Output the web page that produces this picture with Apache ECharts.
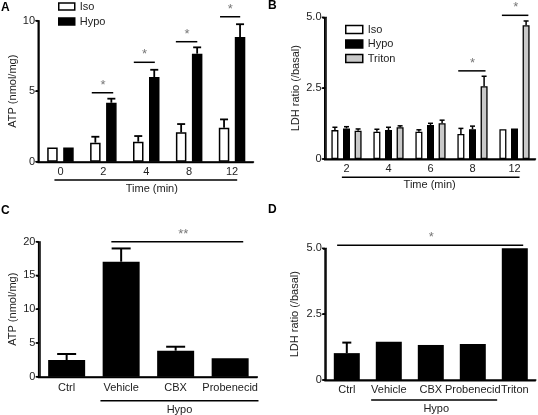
<!DOCTYPE html>
<html><head><meta charset="utf-8">
<script src="https://cdn.jsdelivr.net/npm/echarts@6/dist/echarts.min.js"></script>
<style>html,body{margin:0;padding:0;background:#fff}#c{width:538px;height:415px}</style>
</head><body><div id="c"></div>
<script>
const FONT = "'Liberation Sans', Arial, Helvetica, sans-serif";

// ---------- Panel A: ATP release over time ----------
const catA = ['0', '2', '4', '8', '12'];
const isoA = [1.0, 1.35, 1.42, 2.08, 2.41];
const isoErrA = [0.0, 0.42, 0.40, 0.59, 0.59];
const hypoA = [1.0, 4.18, 6.0, 7.66, 8.84];
const hypoErrA = [0.0, 0.29, 0.52, 0.45, 0.91];
const ticksA = [0, 5, 10];
// significance bars: [height, from, to, starPos]  (positions in category units)
const sigA = [[4.89, 0.73, 1.23, 0.99], [7.05, 1.71, 2.20, 1.96], [8.51, 2.69, 3.19, 2.95], [10.28, 3.72, 4.19, 3.96]];
const sigLabelA = ['*', '*', '*', '*'];
// group underline: [from, to, labelPos]
const groupA = [[-0.14, 4.12, 2.13]];
const groupLabelA = ['Time (min)'];

// ---------- Panel B: LDH ratio over time ----------
const catB = ['2', '4', '6', '8', '12'];
const isoB = [1.02, 0.96, 0.96, 0.88, 1.05];
const isoErrB = [0.10, 0.09, 0.07, 0.20, 0.02];
const hypoB = [1.08, 1.02, 1.20, 1.05, 1.08];
const hypoErrB = [0.06, 0.10, 0.06, 0.11, 0.02];
const tritonB = [1.00, 1.12, 1.26, 2.57, 4.72];
const tritonErrB = [0.06, 0.05, 0.11, 0.35, 0.15];
const ticksB = [0, 2.5, 5.0];
const sigB = [[3.11, 2.66, 3.31, 3.0], [5.07, 3.70, 4.33, 4.03]];
const sigLabelB = ['*', '*'];
const groupB = [[-0.11, 4.12, 1.98]];
const groupLabelB = ['Time (min)'];

// ---------- Panel C: ATP with blockers ----------
const catC = ['Ctrl', 'Vehicle', 'CBX', 'Probenecid'];
const atpC = [2.47, 17.04, 3.85, 2.72];
const atpErrC = [0.89, 1.96, 0.59, 0.08];
const ticksC = [0, 5, 10, 15, 20];
const sigC = [[20.0, 0.82, 3.24, 2.14]];
const sigLabelC = ['**'];
const groupC = [[0.62, 3.52, 2.07]];
const groupLabelC = ['Hypo'];

// ---------- Panel D: LDH with blockers ----------
const catD = ['Ctrl', 'Vehicle', 'CBX', 'Probenecid', 'Triton'];
const ldhD = [1.02, 1.45, 1.33, 1.37, 5.0];
const ldhErrD = [0.40, 0.01, 0.01, 0.02, 0.0];
const ticksD = [0, 2.5, 5.0];
const sigD = [[5.12, -0.23, 4.20, 2.01]];
const sigLabelD = ['*'];
const groupD = [[0.58, 3.58, 2.13]];
const groupLabelD = ['Hypo'];

// ---------- layout ----------
const grids = [
  {left: 39, top: 20.7, width: 214.5, height: 141},
  {left: 325.5, top: 17.3, width: 210, height: 141.7},
  {left: 39.4, top: 241.7, width: 218, height: 135},
  {left: 325.8, top: 248.3, width: 210, height: 131.7}
];
const cats = [catA, catB, catC, catD];
const ticks = [ticksA, ticksB, ticksC, ticksD];
const yNames = ['ATP (nmol/mg)', 'LDH ratio (/basal)', 'ATP (nmol/mg)', 'LDH ratio (/basal)'];
const yNameGap = [21, 24.5, 21, 25.5];
const xLabelMargin = [5, 4, 6, 4];
const groupLineOff = [18.3, 18.3, 24, 20];
const groupTextOff = [27.5, 26, 33, 28.5];

const fmtDec = v => v === 0 ? '0' : v.toFixed(1);

const xAxes = cats.map((c, k) => ({
  type: 'category', gridIndex: k, data: c,
  axisLine: {show: true, onZero: false, lineStyle: {color: '#000', width: 1.5}},
  axisTick: {show: false},
  axisLabel: {margin: xLabelMargin[k], interval: 0, fontFamily: FONT, fontSize: 11, color: '#222'},
  splitLine: {show: false}
}));
const yAxes = ticks.map((t, k) => ({
  type: 'value', gridIndex: k, min: t[0], max: t[t.length - 1], interval: t[1] - t[0],
  axisLine: {show: true, onZero: false, lineStyle: {color: '#000', width: 1.5}},
  axisTick: {show: true, length: 3, lineStyle: {color: '#000', width: 1.5}},
  axisLabel: {margin: 4, formatter: (k === 1 || k === 3) ? fmtDec : '{value}', fontFamily: FONT, fontSize: 11, color: '#222'},
  splitLine: {show: false},
  name: yNames[k], nameLocation: 'middle', nameGap: yNameGap[k],
  nameTextStyle: {fontFamily: FONT, fontSize: 11, color: '#222'}
}));

function barSeries(name, k, data, color, bw, gapPx, bwBorder) {
  return {
    name: name, type: 'bar', xAxisIndex: k, yAxisIndex: k, data: data,
    barWidth: bw, barGap: (gapPx / bw * 100) + '%',
    itemStyle: {color: color, borderColor: '#000', borderWidth: bwBorder},
    silent: true
  };
}
function errSeries(k, means, errs, idx, n, bw, gapPx, cap, lw) {
  return {
    type: 'custom', xAxisIndex: k, yAxisIndex: k, z: 5, silent: true,
    data: means.map((m, i) => [i, m, m + errs[i]]),
    renderItem(params, api) {
      const i = api.value(0);
      const total = n * bw + (n - 1) * gapPx;
      const dx = -total / 2 + bw / 2 + idx * (bw + gapPx);
      const p0 = api.coord([i, api.value(1)]);
      const p1 = api.coord([i, api.value(2)]);
      if (p0[1] - p1[1] < 0.8) return null;
      const x = p0[0] + dx;
      return {type: 'group', children: [
        {type: 'line', shape: {x1: x, y1: p0[1], x2: x, y2: p1[1]}, style: {stroke: '#000', lineWidth: lw}},
        {type: 'line', shape: {x1: x - cap / 2, y1: p1[1], x2: x + cap / 2, y2: p1[1]}, style: {stroke: '#000', lineWidth: lw}}
      ]};
    }
  };
}
// fractional category position -> pixel x
function catX(api, v) {
  const band = api.size([1, 0])[0];
  return api.coord([0, 0])[0] + v * band;
}
function sigSeries(k, items, labels) {
  return {
    type: 'custom', xAxisIndex: k, yAxisIndex: k, z: 6, silent: true,
    encode: {x: -1, y: 0},
    dimensions: ['h', 'from', 'to', 'star'],
    data: items.map(d => [d[0], d[1], d[2], d[3]]),
    renderItem(params, api) {
      const y = api.coord([0, api.value(0)])[1];
      const a = catX(api, api.value(1));
      const b = catX(api, api.value(2));
      const s = catX(api, api.value(3));
      return {type: 'group', children: [
        {type: 'line', shape: {x1: a, y1: y, x2: b, y2: y}, style: {stroke: '#000', lineWidth: 1.5}},
        {type: 'text', style: {text: labels[params.dataIndex], x: s, y: y - 1, align: 'center', verticalAlign: 'bottom',
          fontFamily: FONT, fontSize: 13, fill: '#777'}}
      ]};
    }
  };
}
function groupSeries(k, items, labels) {
  return {
    type: 'custom', xAxisIndex: k, yAxisIndex: k, z: 6, silent: true,
    encode: {x: -1, y: -1},
    dimensions: ['from', 'to', 'label'],
    data: items.map(d => [d[0], d[1], d[2]]),
    renderItem(params, api) {
      const y0 = api.coord([0, 0])[1];
      const a = catX(api, api.value(0));
      const b = catX(api, api.value(1));
      const t = catX(api, api.value(2));
      const yl = y0 + groupLineOff[k];
      return {type: 'group', children: [
        {type: 'line', shape: {x1: a, y1: yl, x2: b, y2: yl}, style: {stroke: '#000', lineWidth: 1.5}},
        {type: 'text', style: {text: labels[params.dataIndex], x: t, y: y0 + groupTextOff[k], align: 'center', verticalAlign: 'middle',
          fontFamily: FONT, fontSize: 11, fill: '#222'}}
      ]};
    }
  };
}

// bar geometry per panel
const gA = {bw: 10.5, gap: 5.5, cap: 8, lw: 1.8, border: 1.5};
const gB = {bw: 7, gap: 4.6, cap: 5, lw: 1.5, border: 1.3};
const gC = {bw: 37, gap: 0, cap: 19, lw: 2};
const gD = {bw: 26, gap: 0, cap: 9, lw: 2};

const series = [
  barSeries('Iso', 0, isoA, '#fff', gA.bw, gA.gap, gA.border),
  barSeries('Hypo', 0, hypoA, '#000', gA.bw, gA.gap, gA.border),
  errSeries(0, isoA, isoErrA, 0, 2, gA.bw, gA.gap, gA.cap, gA.lw),
  errSeries(0, hypoA, hypoErrA, 1, 2, gA.bw, gA.gap, gA.cap, gA.lw),
  sigSeries(0, sigA, sigLabelA),
  groupSeries(0, groupA, groupLabelA),

  barSeries('Iso', 1, isoB, '#fff', gB.bw, gB.gap, gB.border),
  barSeries('Hypo', 1, hypoB, '#000', gB.bw, gB.gap, gB.border),
  barSeries('Triton', 1, tritonB, '#c9c9c9', gB.bw, gB.gap, gB.border),
  errSeries(1, isoB, isoErrB, 0, 3, gB.bw, gB.gap, gB.cap, gB.lw),
  errSeries(1, hypoB, hypoErrB, 1, 3, gB.bw, gB.gap, gB.cap, gB.lw),
  errSeries(1, tritonB, tritonErrB, 2, 3, gB.bw, gB.gap, gB.cap, gB.lw),
  sigSeries(1, sigB, sigLabelB),
  groupSeries(1, groupB, groupLabelB),

  barSeries('ATP', 2, atpC, '#000', gC.bw, 0, 0),
  errSeries(2, atpC, atpErrC, 0, 1, gC.bw, 0, gC.cap, gC.lw),
  sigSeries(2, sigC, sigLabelC),
  groupSeries(2, groupC, groupLabelC),

  barSeries('LDH', 3, ldhD, '#000', gD.bw, 0, 0),
  errSeries(3, ldhD, ldhErrD, 0, 1, gD.bw, 0, gD.cap, gD.lw),
  sigSeries(3, sigD, sigLabelD),
  groupSeries(3, groupD, groupLabelD)
];

const legendBase = {
  orient: 'vertical', padding: 0, itemWidth: 16, itemHeight: 7, itemGap: 4, icon: 'rect',
  selectedMode: false, textStyle: {fontFamily: FONT, fontSize: 11, color: '#222'},
  itemStyle: {borderColor: '#000', borderWidth: 1.5}
};

const titleStyle = {fontFamily: FONT, fontSize: 12, fontWeight: 'bold', color: '#000'};
const option = {
  animation: false,
  backgroundColor: '#fff',
  title: [
    {text: 'A', left: 1, top: 2, padding: 0, textStyle: titleStyle},
    {text: 'B', left: 268, top: 0, padding: 0, textStyle: titleStyle},
    {text: 'C', left: 1, top: 204.5, padding: 0, textStyle: titleStyle},
    {text: 'D', left: 268, top: 204, padding: 0, textStyle: titleStyle}
  ],
  legend: [
    Object.assign({data: ['Iso', 'Hypo'], left: 58, top: 1}, legendBase),
    Object.assign({data: ['Iso', 'Hypo', 'Triton'], left: 345, top: 24}, legendBase, {itemWidth: 17, itemHeight: 8, itemGap: 3.5})
  ],
  grid: grids,
  xAxis: xAxes,
  yAxis: yAxes,
  series: series
};

const chart = echarts.init(document.getElementById('c'));
chart.setOption(option);

// Axis lines and y ticks as graphic overlay, positioned through the axes' own pixel conversion
const axisGraphics = [];
cats.forEach((c, k) => {
  const t = ticks[k];
  const p0 = chart.convertToPixel({gridIndex: k}, [0, t[0]]);
  const p1 = chart.convertToPixel({gridIndex: k}, [1, t[0]]);
  const band = p1[0] - p0[0];
  const xl = p0[0] - band / 2 - 0.75;
  const xr = p0[0] + band * (c.length - 0.5);
  const yb = p0[1] + 0.75;
  const yt = chart.convertToPixel({gridIndex: k}, [0, t[t.length - 1]])[1];
  const st = {stroke: '#000', lineWidth: 1.5};
  axisGraphics.push({type: 'line', z: 100, silent: true, shape: {x1: xl - 0.75, y1: yb, x2: xr, y2: yb}, style: st});
  axisGraphics.push({type: 'line', z: 100, silent: true, shape: {x1: xl, y1: yb, x2: xl, y2: yt}, style: st});
  t.forEach(v => {
    const y = chart.convertToPixel({gridIndex: k}, [0, v])[1];
    axisGraphics.push({type: 'line', z: 100, silent: true, shape: {x1: xl - 3, y1: y, x2: xl, y2: y}, style: st});
  });
});
chart.setOption({graphic: {elements: axisGraphics}});
</script>
</body></html>
